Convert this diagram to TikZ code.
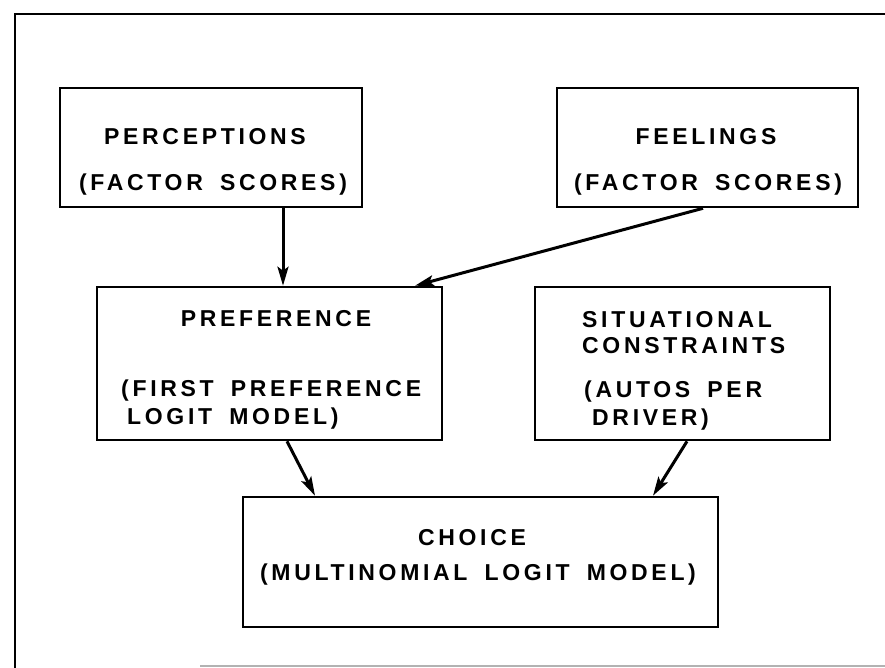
\documentclass[tikz,border=0pt]{standalone}
\usepackage{fontspec}
\setmainfont[LetterSpace=16,WordSpace=1.7]{Liberation Sans}
\usetikzlibrary{arrows.meta,fit}
\newcommand{\lettering}{\bfseries\fontsize{23}{27}\selectfont}
\begin{document}
\begin{tikzpicture}[x=1pt,y=-1pt,
  box/.style={draw, line width=2.6pt, inner sep=0pt},
  lbl/.style={font=\lettering, inner sep=0pt, anchor=base},
  lblw/.style={font=\lettering, inner sep=0pt, anchor=base west},
  arr/.style={line width=3pt, -{Stealth[length=19pt,width=11pt,inset=4pt]}},
  frame/.style={line width=2.6pt}]
\useasboundingbox (0,0) rectangle (885,668);
% outer frame
\coordinate (ftr) at (885,14);
\coordinate (ftl) at (15,14);
\coordinate (fbl) at (15,668);
\coordinate (fb1) at (200,666);
\coordinate (fb2) at (885,666);
\draw[frame] (ftr) -- (ftl) -- (fbl);
\draw[gray!60, line width=1.2pt] (fb1) -- (fb2);
% boxes
\node[box, fit={(60,88) (362,207)}] (perc) {};
\node[box, fit={(557,88) (858,207)}] (feel) {};
\node[box, fit={(97,287) (442,440)}] (pref) {};
\node[box, fit={(535,287) (830,440)}] (sit) {};
\node[box, fit={(243,497) (718,627)}] (choice) {};
% texts
\node[lbl] (t1) at (205,145) {PERCEPTIONS};
\node[lbl] (t2) at (213,191) {(FACTOR SCORES)};
\node[lbl] (t3) at (706,145) {FEELINGS};
\node[lbl] (t4) at (708,191) {(FACTOR SCORES)};
\node[lbl] (t5) at (276,326) {PREFERENCE};
\node[lblw] (t6) at (121,396) {(FIRST PREFERENCE};
\node[lblw] (t7) at (127,424) {LOGIT MODEL)};
\node[lblw] (t8) at (582,327) {SITUATIONAL};
\node[lblw] (t9) at (582,353) {CONSTRAINTS};
\node[lblw] (t10) at (584,397) {(AUTOS PER};
\node[lblw] (t11) at (592,425) {DRIVER)};
\node[lbl] (t12) at (472,545) {CHOICE};
\node[lbl] (t13) at (478,580) {(MULTINOMIAL LOGIT MODEL)};
% connectors
\draw[arr] ([xshift=72pt]perc.south) -- ([xshift=13.5pt]pref.north);
\draw[arr] ([xshift=-4.5pt]feel.south) -- ([xshift=145.5pt]pref.north);
\draw[arr] ([xshift=17.5pt]pref.south) -- ([xshift=-165.5pt]choice.north);
\draw[arr] ([xshift=4.5pt]sit.south) -- ([xshift=172.5pt]choice.north);
\end{tikzpicture}
\end{document}
